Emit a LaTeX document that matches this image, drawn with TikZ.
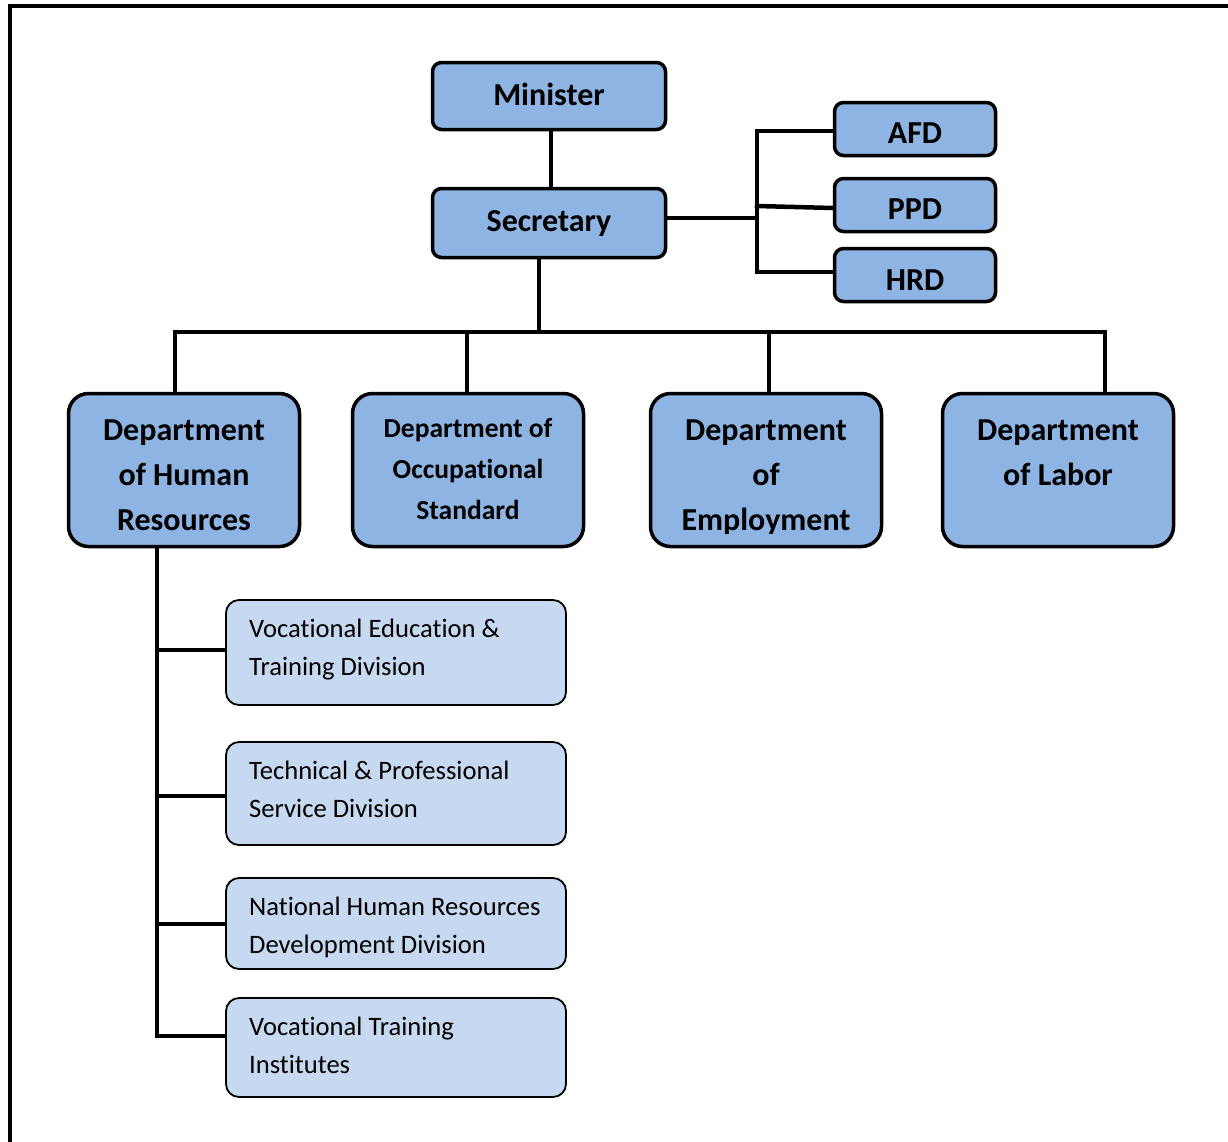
\documentclass[tikz,border=0pt]{standalone}
\usepackage{fontspec}
\setmainfont{Carlito}[Ligatures={NoCommon}]
\definecolor{mainblue}{HTML}{8EB4E3}
\definecolor{subblue}{HTML}{C6D9F1}
\tikzset{
  topbox/.style={draw=black, line width=3.5pt, fill=mainblue, rounded corners=9pt, inner sep=0pt},
  deptbox/.style={draw=black, line width=3.5pt, fill=mainblue, rounded corners=20pt, inner sep=0pt,
    minimum width=231pt, minimum height=153pt},
  subbox/.style={draw=black, line width=1.8pt, fill=subblue, rounded corners=13pt, inner sep=0pt,
    minimum width=340pt},
  boldtxt/.style={inner sep=0pt, anchor=base, font=\fontsize{32}{45}\selectfont\bfseries},
  subtxt/.style={inner sep=0pt, anchor=base west, font=\fontsize{26.6}{38}\selectfont},
  conn/.style={draw=black, line width=4.5pt, line cap=rect},
}
\newcommand{\ctrlines}[2]{\parbox[t]{230pt}{\centering\baselineskip=#1 #2}}
\newcommand{\leftlines}[1]{\parbox[t]{310pt}{\raggedright\baselineskip=38pt #1}}
\begin{document}
\begin{tikzpicture}[x=1pt,y=-1pt]
\useasboundingbox (0,0) rectangle (1228,1141);
\clip (0,0) rectangle (1228,1141);
\draw[line width=4pt] (10,6) rectangle (1270,1180);

% top boxes
\node[topbox, minimum width=233pt, minimum height=67pt] (min) at (549,96) {};
\node[boldtxt] (mint) at (549,105) {Minister};
\node[topbox, minimum width=233pt, minimum height=69pt] (sec) at (549,223) {};
\node[boldtxt] (sect) at (549,231) {Secretary};

\node[topbox, minimum width=161pt, minimum height=53pt] (afd) at (915,129) {};
\node[boldtxt] (afdt) at (915,143) {AFD};
\node[topbox, minimum width=161pt, minimum height=53pt] (ppd) at (915,205) {};
\node[boldtxt] (ppdt) at (915,219) {PPD};
\node[topbox, minimum width=161pt, minimum height=53pt] (hrd) at (915,275) {};
\node[boldtxt] (hrdt) at (915,290) {HRD};

% departments
\node[deptbox] (dhr) at (184,470) {};
\node[boldtxt] (dhrt) at (184,440) {\ctrlines{45pt}{Department\\of Human\\Resources}};
\node[deptbox] (dos) at (468,470) {};
\node[boldtxt, font=\fontsize{27.5}{41}\selectfont\bfseries] (dost) at (468,437) {\ctrlines{41pt}{Department of\\Occupational\\Standard}};
\node[deptbox] (dem) at (766,470) {};
\begin{scope}
  \clip (649,392) rectangle (883,533);
  \node[boldtxt] (demt) at (766,440) {\ctrlines{45pt}{Department\\of\\Employment}};
\end{scope}
\node[deptbox] (dlb) at (1058,470) {};
\node[boldtxt] (dlbt) at (1058,440) {\ctrlines{45pt}{Department\\of Labor}};

% sub boxes
\node[subbox, minimum height=105pt] (s1) at (396,652.5) {};
\node[subtxt] (s1t) at (249,637) {\leftlines{Vocational Education \&\\Training Division}};
\node[subbox, minimum height=103pt] (s2) at (396,793.5) {};
\node[subtxt] (s2t) at (249,779) {\leftlines{Technical \& Professional\\Service Division}};
\node[subbox, minimum height=91pt] (s3) at (396,923.5) {};
\node[subtxt] (s3t) at (249,915) {\leftlines{National Human Resources\\Development Division}};
\node[subbox, minimum height=99pt] (s4) at (396,1047.5) {};
\node[subtxt] (s4t) at (249,1035) {\leftlines{Vocational Training\\Institutes}};

% connectors: minister - secretary
\draw[conn] ([xshift=2pt]min.south) -- ([xshift=2pt]sec.north);

% secretary - staff units
\coordinate (brt) at (757,131);
\coordinate (brm) at (757,218);
\coordinate (brp) at (757,206);
\coordinate (brb) at (757,272);
\draw[conn] ([yshift=5pt]sec.east) -- (brm);
\draw[conn] (brt) -- (brb);
\draw[conn] (brt) -- (brt -| afd.west);
\draw[conn] (brp) -- ([yshift=-3pt]ppd.west);
\draw[conn] (brb) -- (brb -| hrd.west);

% secretary - departments
\coordinate (sbot) at (539,259);
\coordinate (bus) at (539,332);
\coordinate (b1) at (175,332);
\coordinate (b2) at (467,332);
\coordinate (b3) at (769,332);
\coordinate (b4) at (1105,332);
\draw[conn] (sbot) -- (bus);
\draw[conn] (b1) -- (b4);
\draw[conn] (b1) -- (b1 |- dhr.north);
\draw[conn] (b2) -- (b2 |- dos.north);
\draw[conn] (b3) -- (b3 |- dem.north);
\draw[conn] (b4) -- (b4 |- dlb.north);

% human resources - divisions
\coordinate (v0) at (157,548);
\coordinate (v1) at (157,650);
\coordinate (v2) at (157,796);
\coordinate (v3) at (157,924);
\coordinate (v4) at (157,1036);
\draw[conn, line width=3.5pt] (v0) -- (v4);
\draw[conn, line width=3.5pt] (v1) -- (v1 -| s1.west);
\draw[conn, line width=3.5pt] (v2) -- (v2 -| s2.west);
\draw[conn, line width=3.5pt] (v3) -- (v3 -| s3.west);
\draw[conn, line width=3.5pt] (v4) -- (v4 -| s4.west);
\end{tikzpicture}
\end{document}
